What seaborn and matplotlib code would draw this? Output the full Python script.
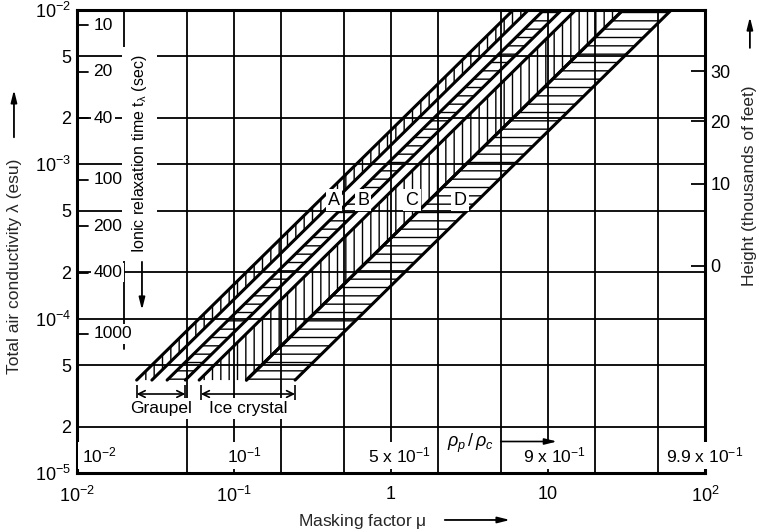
import numpy as np
import pandas as pd
import matplotlib
matplotlib.use("Agg")
import matplotlib.pyplot as plt
import seaborn as sns
from matplotlib import font_manager as fm

# ---------------- data ----------------
band_names = ["A", "B", "C", "D"]
lam_band_bottom = 4.0e-5
lam_band_top = 1.0e-2
edge_mu_bottom_left = [0.024, 0.0375, 0.060, 0.120]
edge_mu_bottom_right = [0.030, 0.049, 0.120, 0.245]
edge_mu_top_left = [6.0, 9.4, 15.0, 30.0]
edge_mu_top_right = [7.5, 12.2, 30.0, 61.0]
band_label_mu = [0.434, 0.664, 1.36, 2.75]
band_label_lam = 5.87e-4

graupel_range = [0.024, 0.049]
crystal_range = [0.0615, 0.245]

relax_times = [10, 20, 40, 100, 200, 400, 1000]          # seconds
height_lam = [2.2e-4, 7.5e-4, 1.9e-3, 4.0e-3]             # conductivity at height tick
height_labels = ["0", "10", "20", "30"]

rho_values = [0.01, 0.1, 0.5, 0.9, 0.99]
rho_labels = ["10$^{-2}$", "10$^{-1}$", "5 x 10$^{-1}$", "9 x 10$^{-1}$", "9.9 x 10$^{-1}$"]

x_major = [1e-2, 1e-1, 1, 10, 100]
x_major_labels = ["10$^{-2}$", "10$^{-1}$", "1", "10", "10$^{2}$"]
x_minor = [2e-2, 5e-2, 2e-1, 5e-1, 2, 5, 20, 50]
x_minor_labels = ["2", "5", "2", "5", "2", "5", "2", "5"]
y_major = [1e-5, 1e-4, 1e-3, 1e-2]
y_major_labels = ["10$^{-5}$", "10$^{-4}$", "10$^{-3}$", "10$^{-2}$"]
y_minor = [2e-5, 5e-5, 2e-4, 5e-4, 2e-3, 5e-3]
y_minor_labels = ["2", "5", "2", "5", "2", "5"]

# ---------------- style ----------------
names = {f.name for f in fm.fontManager.ttflist}
MAIN = "Liberation Sans" if "Liberation Sans" in names else "DejaVu Sans"
NARROW = "Liberation Sans Narrow" if "Liberation Sans Narrow" in names else MAIN

sns.set_theme(style="white")
plt.rcParams["font.family"] = [MAIN, "DejaVu Sans"]
plt.rcParams["mathtext.fontset"] = "custom"
plt.rcParams["mathtext.rm"] = MAIN
plt.rcParams["mathtext.it"] = MAIN + ":italic"
plt.rcParams["mathtext.default"] = "regular"
plt.rcParams["hatch.linewidth"] = 1.0
plt.rcParams["text.color"] = "black"

hatches = ["||", "--", "||", "--"]
white_box = dict(boxstyle="square,pad=0.12", fc="white", ec="none")

fig = plt.figure(figsize=(7.59, 5.32), dpi=100)
ax = fig.add_axes([0.1014, 0.1109, 0.8275, 0.8703])
ax.set_xscale("log")
ax.set_yscale("log")
ax.set_xlim(1e-2, 1e2)
ax.set_ylim(1e-5, 1e-2)

# grid lines
for gx in x_minor + x_major[1:-1]:
    ymin = 0.268 if gx == 2e-2 else 0.0
    ax.axvline(gx, ymin=ymin, color="black", lw=1.3, zorder=1)
for gy in y_minor + y_major[1:-1]:
    ax.axhline(gy, color="black", lw=1.3, zorder=1)

# hatched bands
for i, name in enumerate(band_names):
    ax.fill_betweenx([lam_band_bottom, lam_band_top],
                     [edge_mu_bottom_left[i], edge_mu_top_left[i]],
                     [edge_mu_bottom_right[i], edge_mu_top_right[i]],
                     facecolor="none", edgecolor="black", hatch=hatches[i],
                     linewidth=0, zorder=2)

rows = []
for i, name in enumerate(band_names):
    for side, xb, xt in (("L", edge_mu_bottom_left[i], edge_mu_top_left[i]),
                         ("R", edge_mu_bottom_right[i], edge_mu_top_right[i])):
        rows.append({"edge": name + side, "mu": xb, "lam": lam_band_bottom})
        rows.append({"edge": name + side, "mu": xt, "lam": lam_band_top})
edges = pd.DataFrame(rows)
sns.lineplot(data=edges, x="mu", y="lam", units="edge", estimator=None, sort=False,
             color="black", linewidth=2.2, ax=ax, legend=False, zorder=3)

for name, mu in zip(band_names, band_label_mu):
    ax.text(mu, band_label_lam, name, ha="center", va="center", fontsize=13,
            family=NARROW, bbox=white_box, zorder=4)

# graupel / ice crystal ranges
arrow_lam, bar_lo, bar_hi = 3.25e-5, 2.95e-5, 3.7e-5
for rng, label in ((graupel_range, "Graupel"), (crystal_range, "Ice crystal")):
    ax.annotate("", xy=(rng[1], arrow_lam), xytext=(rng[0], arrow_lam),
                arrowprops=dict(arrowstyle="<->", lw=1.2, color="black",
                                shrinkA=0, shrinkB=0), zorder=4)
    ax.vlines(rng, bar_lo, bar_hi, color="black", lw=1.2, zorder=4)
    ax.text(np.sqrt(rng[0] * rng[1]), 2.62e-5, label, ha="center", va="center",
            fontsize=12.5, family=NARROW,
            bbox=dict(boxstyle="square,pad=0.15", fc="white", ec="none"), zorder=4)

# ionic relaxation time scale (inside left)
ytr = ax.get_yaxis_transform()
for t in relax_times:
    lam_t = 1.0 / (4 * np.pi * t)
    ax.plot([0, 0.0175], [lam_t, lam_t], transform=ytr, color="black", lw=1.3, zorder=4)
    ax.text(0.026, lam_t, str(t), transform=ytr, ha="left", va="center",
            fontsize=12.5, family=NARROW, bbox=white_box, zorder=4)
ax.text(0.1, 0.689, "Ionic relaxation time $t_{\\lambda}$ (sec)", rotation=90,
        transform=ax.transAxes, ha="center", va="center", fontsize=11.5, family=NARROW,
        bbox=dict(boxstyle="square,pad=0.5", fc="white", ec="none"), zorder=4)
ax.annotate("", xy=(0.1035, 0.352), xytext=(0.1035, 0.456), xycoords="axes fraction",
            arrowprops=dict(arrowstyle="-|>,head_width=0.15,head_length=0.6", lw=1.3,
                            color="black", shrinkA=0, shrinkB=0), zorder=4)

# rho_p / rho_c scale (inside bottom)
rho_offsets = [3, 2, 6, 10, 0]
for r, lab, off in zip(rho_values, rho_labels, rho_offsets):
    mu_r = r / (1 - r)
    ha = "left" if r == rho_values[0] else "center"
    ax.annotate(lab, xy=(mu_r, 1.3e-5), xytext=(off, 0), textcoords="offset points",
                ha=ha, va="center", fontsize=12.5, family=NARROW,
                bbox=dict(boxstyle="square,pad=0.2", fc="white", ec="none"),
                zorder=5, annotation_clip=False)
ax.text(3.2, 1.56e-5, "$\\it{\\rho_p}\\,/\\,\\it{\\rho_c}$", ha="center", va="center",
        fontsize=13, bbox=dict(boxstyle="square,pad=0.2", fc="white", ec="none"), zorder=5)
ax.annotate("", xy=(11.4, 1.6e-5), xytext=(5.0, 1.6e-5),
            arrowprops=dict(arrowstyle="-|>,head_width=0.15,head_length=0.6", lw=1.2,
                            color="black", shrinkA=0, shrinkB=0), zorder=5)

# ticks & labels
ax.set_xticks(x_major)
ax.set_xticklabels(x_major_labels)
ax.set_xticks(x_minor, minor=True)
ax.set_xticklabels(x_minor_labels, minor=True)
ax.set_yticks(y_major)
ax.set_yticklabels(y_major_labels)
ax.set_yticks(y_minor, minor=True)
ax.set_yticklabels(y_minor_labels, minor=True)
ax.tick_params(which="both", length=0, labelsize=13, colors="black")
ax.tick_params(axis="x", which="major", pad=9)
ax.tick_params(axis="x", which="minor", pad=3)
ax.tick_params(axis="y", which="both", pad=4)

for sp in ax.spines.values():
    sp.set_visible(True)
    sp.set_color("black")
    sp.set_linewidth(2.2)

ax.set_xlabel("Masking factor $\\mu$", fontsize=12.5)
ax.xaxis.set_label_coords(0.454, -0.084)
ax.set_ylabel("Total air conductivity λ (esu)", fontsize=12.5)
ax.yaxis.set_label_coords(-0.088, 0.447)

# height axis (right)
ax2 = ax.twinx()
ax2.set_yscale("log")
ax2.set_ylim(1e-5, 1e-2)
ax2.set_yticks(height_lam)
ax2.set_yticklabels(height_labels)
ax2.minorticks_off()
ax2.tick_params(axis="y", direction="in", length=10, width=1.3, pad=4, labelsize=13,
                colors="black")
for sp in ax2.spines.values():
    sp.set_visible(False)
ax2.set_ylabel("Height (thousands of feet)", fontsize=12.5)
ax2.yaxis.set_label_coords(1.059, 0.62)

# axis-label arrows
arrow_kw = dict(arrowstyle="-|>,head_width=0.15,head_length=0.6", lw=1.3, color="black",
                shrinkA=0, shrinkB=0)
ax.annotate("", xy=(0.672, 0.0226), xytext=(0.586, 0.0226), xycoords="figure fraction",
            arrowprops=arrow_kw, annotation_clip=False)
ax.annotate("", xy=(0.0184, 0.831), xytext=(0.0184, 0.742), xycoords="figure fraction",
            arrowprops=arrow_kw, annotation_clip=False)
ax.annotate("", xy=(0.988, 0.968), xytext=(0.988, 0.91), xycoords="figure fraction",
            arrowprops=arrow_kw, annotation_clip=False)

fig.savefig("out.png", dpi=100, facecolor="white")
